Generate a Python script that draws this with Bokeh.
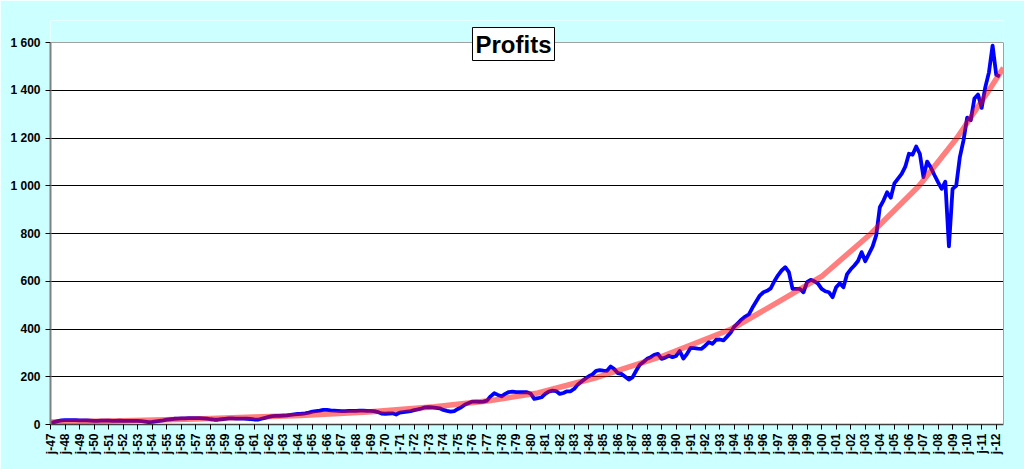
import math
import numpy as np
from bokeh.plotting import figure
from bokeh.models import (FixedTicker, Label, Range1d, ColumnDataSource, BoxAnnotation,
                          Span, LinearAxis)
from bokeh.embed import file_html
from bokeh.resources import INLINE

# Quarterly profits, 1947 Q1 .. 2012 Q2
profits = [
    6, 10, 14, 17,        # 1947
    18, 18, 18, 18,       # 1948
    17, 17, 17, 16,       # 1949
    15, 15, 16, 16,       # 1950
    16, 15, 15, 16,       # 1951
    15, 15, 15, 15,       # 1952
    15, 14, 12, 10,       # 1953
    11, 13, 15, 17,       # 1954
    20, 22, 24, 25,       # 1955
    26, 26, 27, 27,       # 1956
    27, 27, 26, 25,       # 1957
    22, 20, 20, 22,       # 1958
    24, 26, 26, 25,       # 1959
    25, 25, 24, 23,       # 1960
    21, 20, 24, 28,       # 1961
    32, 35, 36, 36,       # 1962
    37, 38, 40, 42,       # 1963
    44, 45, 47, 50,       # 1964
    54, 56, 58, 61,       # 1965
    61, 59, 58, 57,       # 1966
    56, 56, 57, 57,       # 1967
    57, 58, 58, 57,       # 1968
    57, 56, 52, 46,       # 1969
    45, 46, 47, 42,       # 1970
    50, 52, 54, 56,       # 1971
    60, 63, 67, 72,       # 1972
    73, 72, 70, 68,       # 1973
    61, 57, 54, 56,       # 1974
    65, 73, 84, 90,       # 1975
    96, 96, 95, 96,       # 1976
    100, 118, 131, 124,   # 1977
    118, 128, 136, 138,   # 1978
    136, 135, 136, 135,   # 1979
    130, 107, 110, 114,   # 1980
    128, 138, 142, 140,   # 1981
    128, 132, 139, 139,   # 1982
    150, 168, 180, 192,   # 1983
    202, 210, 225, 228,   # 1984
    226, 225, 243, 232,   # 1985
    215, 212, 200, 188,   # 1986
    197, 225, 250, 262,   # 1987
    275, 282, 292, 296,   # 1988
    275, 280, 288, 282,   # 1989
    287, 308, 276, 296,   # 1990
    321, 320, 318, 317,   # 1991
    330, 345, 338, 355,   # 1992
    356, 352, 368, 385,   # 1993
    410, 425, 440, 452,   # 1994
    461, 490, 515, 540,   # 1995
    554, 560, 570, 600,   # 1996
    625, 645, 659, 638,   # 1997
    568, 568, 568, 554,   # 1998
    596, 606, 600, 590,   # 1999
    568, 558, 554, 533,   # 2000
    575, 592, 575, 630,   # 2001
    650, 666, 685, 722,   # 2002
    684, 715, 745, 792,   # 2003
    910, 938, 973, 950,   # 2004
    1010, 1030, 1050, 1080,  # 2005
    1134, 1130, 1164, 1134,  # 2006
    1036, 1101, 1077, 1045,  # 2007
    1015, 987, 1017, 746,    # 2008
    987, 1000, 1120, 1190,   # 2009
    1285, 1275, 1365, 1382,  # 2010
    1326, 1413, 1475, 1587,  # 2011
    1465, 1458,              # 2012
]

# Trend line (exponential trend of the chart) at these dates
trend_years = [1947.0, 1952.0, 1957.0, 1961.0, 1964.2, 1968.8, 1973.4, 1977.0, 1980.5,
               1984.6, 1989.0, 1993.8, 1997.5, 2000.0, 2003.4, 2006.7, 2009.3, 2011.5, 2012.5]
trend_values = [10, 16, 23, 31, 38, 52, 74, 98, 132,
                198, 285, 400, 530, 620, 800, 1000, 1200, 1400, 1494]

years = list(range(1947, 2013))
year_labels = ["j-%02d" % (y % 100) for y in years]
y_ticks = [0, 200, 400, 600, 800, 1000, 1200, 1400, 1600]
y_labels = ["0", "200", "400", "600", "800", "1 000", "1 200", "1 400", "1 600"]
title_text = "Profits"

# x coordinate = quarter index since 1947 Q1
idx = list(range(len(profits)))
trend_x = [(y - 1947.0) * 4 for y in trend_years]

src = ColumnDataSource(dict(x=idx, y=profits))
tsrc = ColumnDataSource(dict(x=trend_x, y=trend_values))

BG = "#CCFFFF"
FRAME_TOP = 20            # px above the 1 600 line kept inside the frame for the title box
PX_PER_UNIT = 382 / 1600.0
y_top = 1600 + (42 - FRAME_TOP) / PX_PER_UNIT

p = figure(width=1024, height=469, output_backend="svg", toolbar_location=None,
           x_range=Range1d(0, 262), y_range=Range1d(0, y_top),
           min_border_left=50, min_border_right=21, min_border_top=FRAME_TOP,
           min_border_bottom=45,
           background_fill_color="white", border_fill_color=BG)
p.outline_line_color = None

# cyan band above the plot area (holds the title box)
p.add_layout(BoxAnnotation(bottom=1600, fill_color=BG, fill_alpha=1.0, line_color=None,
                           level="underlay"))
p.add_layout(Span(location=1600, dimension="width", line_color="#A0A0A0", line_width=1))

p.line("x", "y", source=src, line_color="#0000FF", line_width=3.8, line_join="round")
p.line("x", "y", source=tsrc, line_color="#FF0000", line_alpha=0.5, line_width=5.5,
       line_join="round")

# y axis
p.yaxis.bounds = (0, 1600)
p.yaxis.ticker = FixedTicker(ticks=y_ticks)
p.yaxis.major_label_overrides = {t: l for t, l in zip(y_ticks, y_labels)}
p.yaxis.axis_line_color = "#808080"
p.yaxis.axis_line_width = 2
p.yaxis.major_tick_line_color = "black"
p.yaxis.major_tick_out = 5
p.yaxis.major_tick_in = 0
p.yaxis.minor_tick_line_color = None
p.yaxis.major_label_text_font = "Liberation Sans"
p.yaxis.major_label_text_font_style = "bold"
p.yaxis.major_label_text_font_size = "12px"
p.yaxis.major_label_text_color = "black"
p.yaxis.major_label_standoff = 5

# right border of the plot area
right = LinearAxis(bounds=(0, 1600), ticker=FixedTicker(ticks=[]),
                   axis_line_color="#A0A0A0", axis_line_width=1,
                   major_tick_line_color=None, minor_tick_line_color=None)
p.add_layout(right, "right")

# x axis
x_ticks = [4 * k for k in range(len(year_labels))]
p.xaxis.ticker = FixedTicker(ticks=x_ticks)
p.xaxis.major_label_overrides = {t: l for t, l in zip(x_ticks, year_labels)}
p.xaxis.major_label_orientation = math.pi / 2
p.xaxis.axis_line_color = "#404040"
p.xaxis.axis_line_width = 1.5
p.xaxis.major_tick_line_color = "black"
p.xaxis.major_tick_out = 5
p.xaxis.major_tick_in = 0
p.xaxis.minor_tick_line_color = None
p.xaxis.major_label_text_font = "Liberation Sans"
p.xaxis.major_label_text_font_style = "bold"
p.xaxis.major_label_text_font_size = "12px"
p.xaxis.major_label_text_color = "black"
p.xaxis.major_label_standoff = 4

p.xgrid.grid_line_color = None
p.ygrid.ticker = FixedTicker(ticks=y_ticks[1:-1])
p.ygrid.grid_line_color = "black"
p.ygrid.grid_line_width = 1

# title box with shadow (positions relative to the plot frame's bottom-left)
shadow = Label(x=467, y=376.5, x_units="screen", y_units="screen", text=title_text,
               text_font="Liberation Sans", text_font_style="bold", text_font_size="24px",
               text_align="center", text_baseline="middle", text_alpha=0.0,
               background_fill_color="#808080", background_fill_alpha=0.8, padding=3)
title = Label(x=463, y=380.5, x_units="screen", y_units="screen", text=title_text,
              text_font="Liberation Sans", text_font_style="bold", text_font_size="24px",
              text_align="center", text_baseline="middle", text_color="black",
              background_fill_color="white", border_line_color="black", border_line_width=1,
              padding=3)
p.add_layout(shadow)
p.add_layout(title)

html = file_html(p, INLINE)
html = html.replace("<body>", '<body style="background-color:%s;">' % BG, 1)
open("out.html", "w").write(html)
